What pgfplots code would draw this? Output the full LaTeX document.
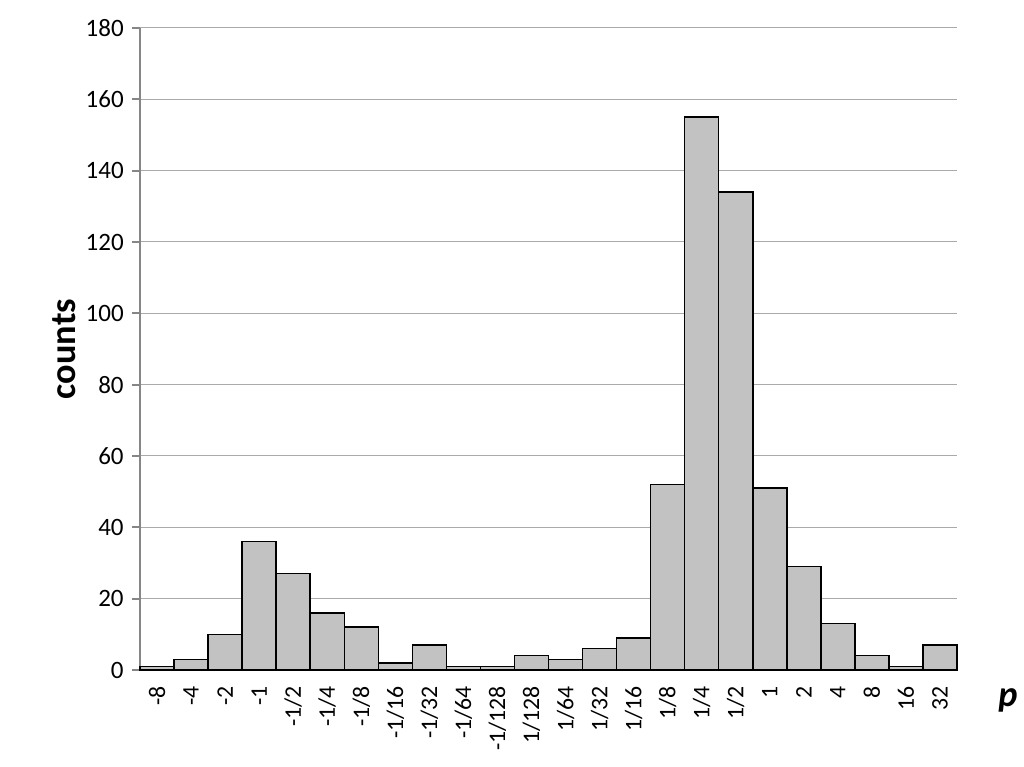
\documentclass[border=0pt]{standalone}
\usepackage{pgfplots}
\pgfplotsset{compat=1.18}
\usepackage{fontspec}
\setmainfont{Carlito}

\definecolor{barfill}{RGB}{194,194,194}
\definecolor{axisgray}{RGB}{134,134,134}
\definecolor{gridgray}{RGB}{170,170,170}

\begin{document}
\begin{tikzpicture}
\begin{axis}[
    width=326.8pt, height=256.8pt,
    scale only axis,
    axis lines*=left,
    axis line style={axisgray, line width=0.8pt},
    xmin=-0.5, xmax=23.5,
    ymin=0, ymax=180,
    ytick={0,20,...,180},
    ymajorgrids,
    grid style={gridgray, line width=0.4pt},
    xtick={0,...,23},
    xticklabels={-8,-4,-2,-1,-1/2,-1/4,-1/8,-1/16,-1/32,-1/64,-1/128,1/128,1/64,1/32,1/16,1/8,1/4,1/2,1,2,4,8,16,32},
    x tick label style={rotate=90, anchor=east, font=\fontsize{9.5}{11}\selectfont},
    y tick label style={font=\fontsize{10}{12}\selectfont},
    /pgf/number format/assume math mode=true,
    major x tick style={draw=none},
    extra x ticks={-0.5,0.5,...,23.5},
    extra x tick labels={},
    extra x tick style={grid=none, major tick length=4pt, tick align=outside,
        major tick style={axisgray, line width=0.8pt}},
    major tick length=3pt,
    tick align=outside,
    ytick style={axisgray, line width=0.8pt},
    ylabel={\fontsize{14.5}{16}\selectfont\bfseries counts},
    ylabel style={yshift=-3pt},
    clip=false,
]
\addplot[ybar, bar width=1, fill=barfill, draw=black, line width=0.6pt, bar shift=0pt]
coordinates {
(0,1) (1,3) (2,10) (3,36) (4,27) (5,16) (6,12) (7,2) (8,7) (9,1) (10,1) (11,4)
(12,3) (13,6) (14,9) (15,52) (16,155) (17,134) (18,51) (19,29) (20,13) (21,4) (22,1) (23,7)
};
\end{axis}
\node[anchor=west, font=\fontsize{14.5}{16}\selectfont\bfseries\itshape] at ([xshift=13pt,yshift=-12pt]current axis.south east) {p};
\pgfresetboundingbox
\path ([xshift=-56pt,yshift=-38.8pt]current axis.south west) rectangle ([xshift=26.8pt,yshift=11.2pt]current axis.north east);
\end{tikzpicture}
\end{document}
